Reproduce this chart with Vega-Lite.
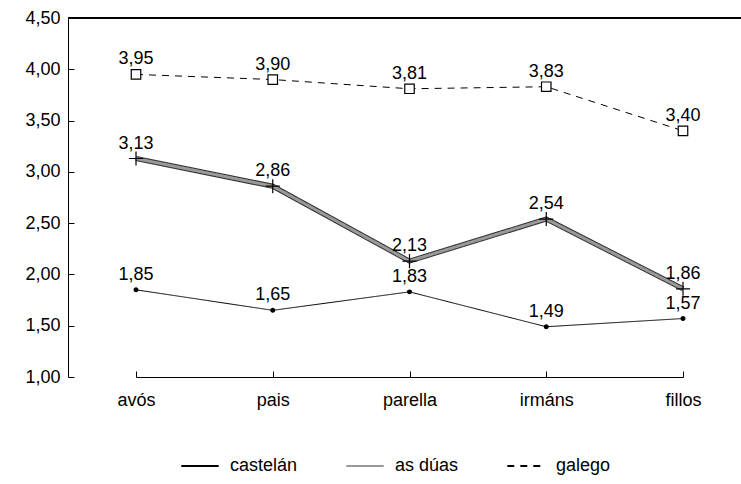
{
  "$schema": "https://vega.github.io/schema/vega-lite/v6.json",
  "width": 673,
  "height": 359,
  "autosize": {"type": "none"},
  "padding": {"left": 68, "top": 18, "right": 0, "bottom": 107},
  "background": "white",
  "data": {"values": [
    {"cat": "avós", "serie": "castelán", "v": 1.85},
    {"cat": "pais", "serie": "castelán", "v": 1.65},
    {"cat": "parella", "serie": "castelán", "v": 1.83},
    {"cat": "irmáns", "serie": "castelán", "v": 1.49},
    {"cat": "fillos", "serie": "castelán", "v": 1.57},
    {"cat": "avós", "serie": "as dúas", "v": 3.13},
    {"cat": "pais", "serie": "as dúas", "v": 2.86},
    {"cat": "parella", "serie": "as dúas", "v": 2.13},
    {"cat": "irmáns", "serie": "as dúas", "v": 2.54},
    {"cat": "fillos", "serie": "as dúas", "v": 1.86},
    {"cat": "avós", "serie": "galego", "v": 3.95},
    {"cat": "pais", "serie": "galego", "v": 3.90},
    {"cat": "parella", "serie": "galego", "v": 3.81},
    {"cat": "irmáns", "serie": "galego", "v": 3.83},
    {"cat": "fillos", "serie": "galego", "v": 3.40}
  ]},
  "encoding": {
    "x": {"field": "cat", "type": "nominal", "sort": ["avós", "pais", "parella", "irmáns", "fillos"],
      "scale": {"type": "point", "range": [68, 615], "padding": 0},
      "axis": {"title": null, "labelAngle": 0, "tickSize": -6, "labelPadding": 20, "domainColor": "black", "tickColor": "black", "labelColor": "black", "labelFontSize": 18, "labelFont": "Liberation Sans", "grid": false}},
    "y": {"field": "v", "type": "quantitative",
      "scale": {"domain": [1, 4.5], "nice": false, "zero": false},
      "axis": {"title": null, "values": [1, 1.5, 2, 2.5, 3, 3.5, 4, 4.5], "format": ".2f", "tickSize": -6, "labelPadding": 14, "domainColor": "black", "tickColor": "black", "labelColor": "black", "labelFontSize": 18, "labelFont": "Liberation Sans", "grid": false}}
  },
  "layer": [
    {"mark": {"type": "rule", "color": "black", "strokeWidth": 1.5}, "encoding": {"y": {"datum": 4.5}, "x": null}},
    {"transform": [{"filter": "datum.serie == 'as dúas'"}],
     "mark": {"type": "line", "color": "#333", "strokeWidth": 5}},
    {"mark": {"type": "line"},
     "encoding": {
       "color": {"field": "serie", "type": "nominal", "sort": ["castelán", "as dúas", "galego"],
         "scale": {"domain": ["castelán", "as dúas", "galego"], "range": ["#000000", "#999999", "#000000"]},
         "legend": {"title": null, "orient": "none", "legendX": 112, "legendY": 428, "direction": "horizontal", "symbolType": "stroke", "symbolSize": 1400, "symbolStrokeWidth": 2, "labelFontSize": 18, "labelFont": "Liberation Sans", "labelColor": "black", "columnPadding": 44, "labelOffset": 10}},
       "strokeDash": {"field": "serie", "type": "nominal", "sort": ["castelán", "as dúas", "galego"],
         "scale": {"domain": ["castelán", "as dúas", "galego"], "range": [[1, 0], [1, 0], [7, 6]]},
         "legend": {"title": null, "orient": "none", "legendX": 112, "legendY": 428, "direction": "horizontal", "symbolType": "stroke", "symbolSize": 1400, "symbolStrokeWidth": 2, "labelFontSize": 18, "labelFont": "Liberation Sans", "labelColor": "black", "columnPadding": 44, "labelOffset": 10}},
       "strokeWidth": {"condition": {"test": "datum.serie == 'as dúas'", "value": 3}, "value": 1}
     }},
    {"mark": {"type": "point", "stroke": "black", "strokeWidth": 1.2, "opacity": 1},
     "encoding": {
       "shape": {"condition": [{"test": "datum.serie == 'as dúas'", "value": "M-1,0H1M0,-1V1"}, {"test": "datum.serie == 'galego'", "value": "square"}], "value": "circle"},
       "fill": {"condition": [{"test": "datum.serie == 'as dúas'", "value": "transparent"}, {"test": "datum.serie == 'galego'", "value": "white"}], "value": "black"},
       "size": {"condition": [{"test": "datum.serie == 'as dúas'", "value": 200}, {"test": "datum.serie == 'galego'", "value": 90}], "value": 14}
     }},
    {"mark": {"type": "text", "dy": -10, "baseline": "alphabetic", "fontSize": 18, "font": "Liberation Sans", "color": "black"},
     "encoding": {"text": {"field": "v", "type": "quantitative", "format": ".2f"}}}
  ],
  "config": {
    "view": {"stroke": null},
    "locale": {"number": {"decimal": ",", "thousands": ".", "grouping": [3], "currency": ["", " €"]}}
  }
}
